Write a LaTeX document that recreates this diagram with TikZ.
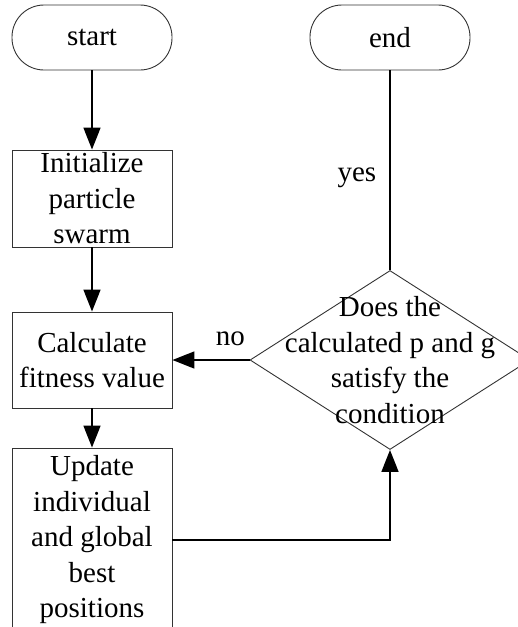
\documentclass[tikz,border=0pt]{standalone}
\usepackage{fontspec}
\setmainfont{Liberation Serif}
\usetikzlibrary{shapes.geometric,arrows.meta}

\begin{document}
\begin{tikzpicture}[x=1pt, y=-1pt,
  font=\fontsize{29}{35.5}\selectfont,
  terminal/.style={draw=black!80, line width=0.9pt, rectangle, rounded corners=32pt,
    minimum width=160pt, minimum height=65pt, inner sep=0pt},
  process/.style={draw=black!80, line width=0.9pt, rectangle, minimum width=160pt,
    align=center, inner sep=0pt},
  decision/.style={draw=black!80, line width=0.9pt, diamond, minimum width=280pt,
    minimum height=179pt, inner sep=0pt},
  flow/.style={line width=1.6pt, -{Triangle[length=22pt,width=17pt]}}]
\useasboundingbox (0,0) rectangle (518,627);

% terminals
\node[terminal] (start) at (92,37.5) {start};
\node[terminal] (end) at (390,37.5) {end};

% steps
\node[process, minimum height=97pt] (init) at (92,198.5) {Initialize\\particle\\swarm};
\node[process, minimum height=96pt] (calc) at (92,360) {Calculate\\fitness value};
\node[process, minimum height=184pt] (update) at (92,540) {Update\\individual\\and global\\best\\positions};

% check
\node[decision] (cond) at (390,360) {};
\node[align=center, inner sep=0pt] (condtext) at (cond) {Does the\\calculated p and g\\satisfy the\\condition};

\draw[flow] (start) -- (init);
\draw[flow] (init) -- (calc);
\draw[flow] (calc) -- (update);
\draw[flow] (update.east) -| (cond.south);
\draw[flow] (cond.west) -- node[pos=0.25, above=13pt, inner sep=0pt] (no) {no} (calc.east);
\draw[line width=1.6pt] (cond.north) -- node[left=13pt, yshift=-8pt, inner sep=0pt] (yes) {yes} (end);
\end{tikzpicture}
\end{document}
